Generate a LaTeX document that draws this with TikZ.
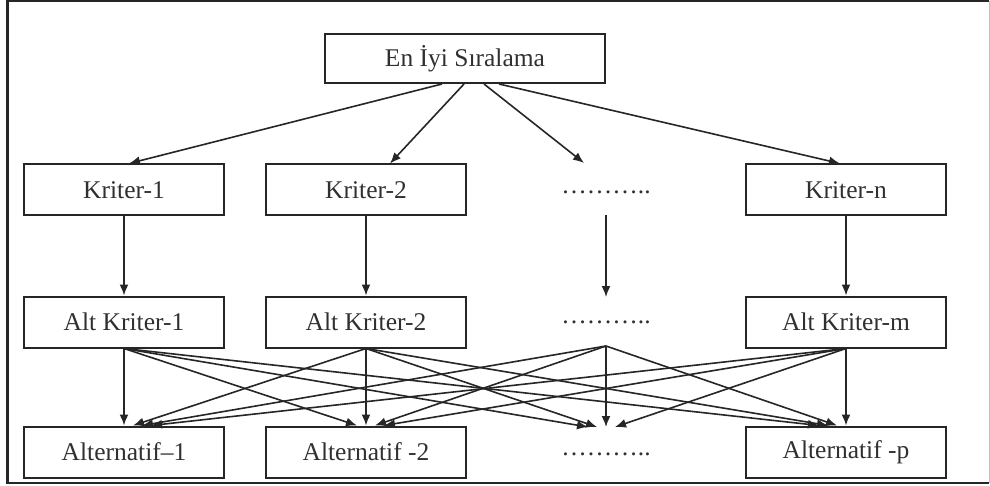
\documentclass[tikz,border=0pt]{standalone}
\usepackage{fontspec}
\setmainfont{Liberation Serif}
\usetikzlibrary{arrows.meta,calc}
\definecolor{ink}{HTML}{262626}
\definecolor{txt}{HTML}{303030}
\begin{document}
\begin{tikzpicture}[x=1pt,y=-1pt,
  box/.style={draw=ink,line width=2pt,minimum width=200pt,minimum height=51pt,inner sep=0pt,text=txt,font=\fontsize{25.5}{30}\selectfont},
  dotnode/.style={inner sep=0pt,text=txt,font=\fontsize{25.5}{30}\selectfont},
  con/.style={draw=ink,line width=1.6pt,-{Latex[length=11pt,width=9pt]}}]
\useasboundingbox (0,0) rectangle (990,486);
% frame
\draw[ink,line width=2.2pt] (989,1) -- (7.5,1) -- (7.5,483) -- (989,483);
\draw[black!25,line width=1pt] (989,1) -- (989,483);
% nodes
\node[box,minimum width=280pt,minimum height=49pt] (top) at (465,58.5) {En İyi Sıralama};
\node[box] (k1) at (124,190) {Kriter-1};
\node[box] (k2) at (366,190) {Kriter-2};
\node[dotnode] (d1) at (606,192) {………..};
\node[box] (kn) at (846,190) {Kriter-n};
\node[box] (a1) at (124,322) {Alt Kriter-1};
\node[box] (a2) at (366,322) {Alt Kriter-2};
\node[dotnode] (d2) at (606,322) {………..};
\node[box] (am) at (846,322) {Alt Kriter-m};
\node[box] (p1) at (124,452) {Alternatif–1};
\node[box] (p2) at (366,452) {Alternatif -2};
\node[dotnode] (d3) at (606,454) {………..};
\node[box] (pp) at (846,452) {Alternatif -p};
% connector ends at the dotted columns
\coordinate (d1t) at (584,163);
\coordinate (d1b) at (606,215);
\coordinate (d2t) at (606,297);
\coordinate (d2s) at (606,346);
\coordinate (d3t) at (606,427);
% top level
\draw[con] ([xshift=118pt]top.south west) -- ([xshift=5pt]k1.north);
\draw[con] ([xshift=140pt]top.south west) -- ([xshift=24pt]k2.north);
\draw[con] ([xshift=160pt]top.south west) -- (d1t);
\draw[con] ([xshift=175pt]top.south west) -- ([xshift=-6pt]kn.north);
% criteria to sub-criteria
\draw[con] (k1) -- (a1);
\draw[con] (k2) -- (a2);
\draw[con] (d1b) -- (d2t);
\draw[con] (kn) -- (am);
% sub-criteria to alternatives
\foreach \s [count=\i] in {a1.south,a2.south,d2s,am.south} {
  \foreach \t [count=\j] in {p1.north,p2.north,d3t,pp.north} {
    \draw[con] (\s) -- ([xshift={(\i-\j)*9pt}]\t);
  }
}
\end{tikzpicture}
\end{document}
